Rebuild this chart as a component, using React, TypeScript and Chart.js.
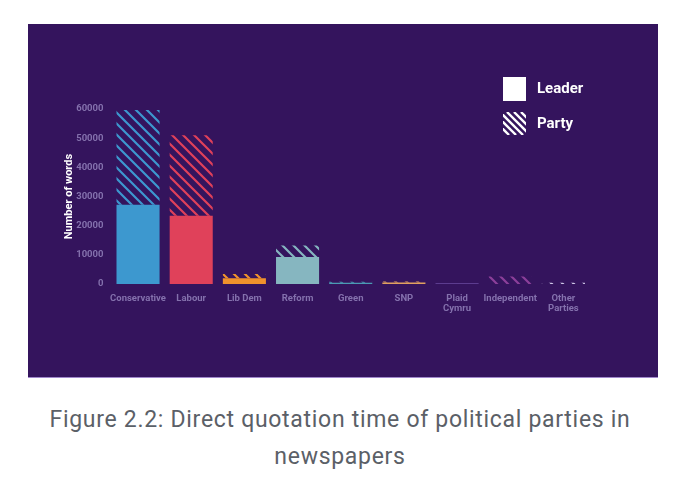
import { Chart, registerables } from 'chart.js';
import { useEffect, useRef } from 'react';

Chart.register(...registerables);

// party names on the x axis
const parties: (string | string[])[] = [
    'Conservative',
    'Labour',
    'Lib Dem',
    'Reform',
    'Green',
    'SNP',
    ['Plaid', 'Cymru'],
    'Independent',
    ['Other', 'Parties'],
];
// words quoted from the party leader
const leaderWords = [27200, 23400, 2000, 9300, 400, 500, 300, 0, 0];
// words quoted from the rest of the party
const partyWords = [32500, 27600, 1400, 3900, 400, 400, 0, 2600, 400];
const partyColours = ['#3d98cf', '#e0415a', '#f0922c', '#86b6c0', '#4b9ab4', '#e0a060', '#6a4aa0', '#8c3f9a', '#d0c8e8'];
const yTicks = [0, 10000, 20000, 30000, 40000, 50000, 60000];

const BG = '#34145d';
const TICK = '#8471ad';
const FONT = 'Roboto, "DejaVu Sans", sans-serif';

// diagonal "\" hatch used for the party part of each bar
const makeHatch = (ctx: CanvasRenderingContext2D, colour: string, size = 11, width = 2.2) => {
    const c = document.createElement('canvas');
    c.width = size;
    c.height = size;
    const p = c.getContext('2d')!;
    p.strokeStyle = colour;
    p.lineWidth = width;
    p.beginPath();
    p.moveTo(-1, -1);
    p.lineTo(size + 1, size + 1);
    p.moveTo(-1, size - 1);
    p.lineTo(1, size + 1);
    p.moveTo(size - 1, -1);
    p.lineTo(size + 1, 1);
    p.stroke();
    return ctx.createPattern(c, 'repeat')!;
};

const legendPlugin = {
    id: 'cornerLegend',
    afterDraw(chart: Chart) {
        const ctx = chart.ctx;
        ctx.save();
        ctx.fillStyle = '#ffffff';
        ctx.fillRect(475, 53, 23, 24);
        // hatched swatch
        ctx.save();
        ctx.beginPath();
        ctx.rect(475, 88, 23, 23);
        ctx.clip();
        ctx.strokeStyle = '#ffffff';
        ctx.lineWidth = 2.4;
        for (let k = -24; k <= 24; k += 7) {
            ctx.beginPath();
            ctx.moveTo(475 + k, 88);
            ctx.lineTo(475 + k + 23, 111);
            ctx.stroke();
        }
        ctx.restore();
        ctx.font = `bold 15px ${FONT}`;
        ctx.textBaseline = 'middle';
        ctx.fillStyle = '#ffffff';
        ctx.fillText('Leader', 509, 65);
        ctx.fillText('Party', 509, 100);
        ctx.restore();
    },
};

export default function App() {
    const canvasRef = useRef<HTMLCanvasElement>(null);

    useEffect(() => {
        if (!canvasRef.current) return;
        const ctx = canvasRef.current.getContext('2d');
        if (!ctx) return;
        const chart = new Chart(ctx, {
            type: 'bar',
            data: {
                labels: parties,
                datasets: [
                    {
                        label: 'Leader',
                        data: leaderWords,
                        backgroundColor: partyColours,
                        borderWidth: 0,
                    },
                    {
                        label: 'Party',
                        data: partyWords,
                        backgroundColor: partyColours.map((c) => makeHatch(ctx, c)),
                        borderWidth: 0,
                    },
                ],
            },
            options: {
                animation: false,
                responsive: true,
                maintainAspectRatio: false,
                layout: { padding: { top: 85, left: 31, right: 68, bottom: 62 } },
                plugins: {
                    legend: { display: false },
                    tooltip: { enabled: false },
                },
                datasets: {
                    bar: { categoryPercentage: 0.9, barPercentage: 0.9 },
                },
                scales: {
                    x: {
                        stacked: true,
                        grid: { display: false },
                        border: { display: false },
                        ticks: {
                            color: TICK,
                            padding: 2,
                            maxRotation: 0,
                            autoSkip: false,
                            font: { family: FONT, size: 9.5, weight: 'bold', lineHeight: 1.0 },
                        },
                    },
                    y: {
                        stacked: true,
                        min: 0,
                        max: 60000,
                        grid: { display: false },
                        border: { display: false },
                        afterBuildTicks: (axis) => {
                            axis.ticks = yTicks.map((v) => ({ value: v }));
                        },
                        ticks: {
                            color: TICK,
                            padding: 0,
                            callback: (v) => String(v),
                            font: { family: FONT, size: 9.5, weight: 'bold' },
                        },
                        title: {
                            display: true,
                            text: 'Number of words',
                            color: '#ffffff',
                            padding: { top: 4, bottom: 0 },
                            font: { family: FONT, size: 11, weight: 'bold' },
                        },
                    },
                },
            },
            plugins: [legendPlugin],
        });
        return () => {
            chart.destroy();
        };
    }, []);

    return (
        <div style={{ fontFamily: FONT }}>
            <div
                style={{
                    position: 'relative',
                    marginLeft: 20,
                    marginTop: 16,
                    width: 630,
                    height: 354,
                    background: BG,
                    boxSizing: 'border-box',
                    borderBottom: '1px solid #a088cc',
                }}
            >
                <canvas ref={canvasRef}></canvas>
            </div>
            <div
                style={{
                    marginTop: 23,
                    width: 664,
                    textAlign: 'center',
                    color: '#5b6067',
                    fontSize: 23,
                    lineHeight: '37px',
                    letterSpacing: 0.7,
                }}
            >
                Figure 2.2: Direct quotation time of political parties in
                <br />
                newspapers
            </div>
        </div>
    );
}
